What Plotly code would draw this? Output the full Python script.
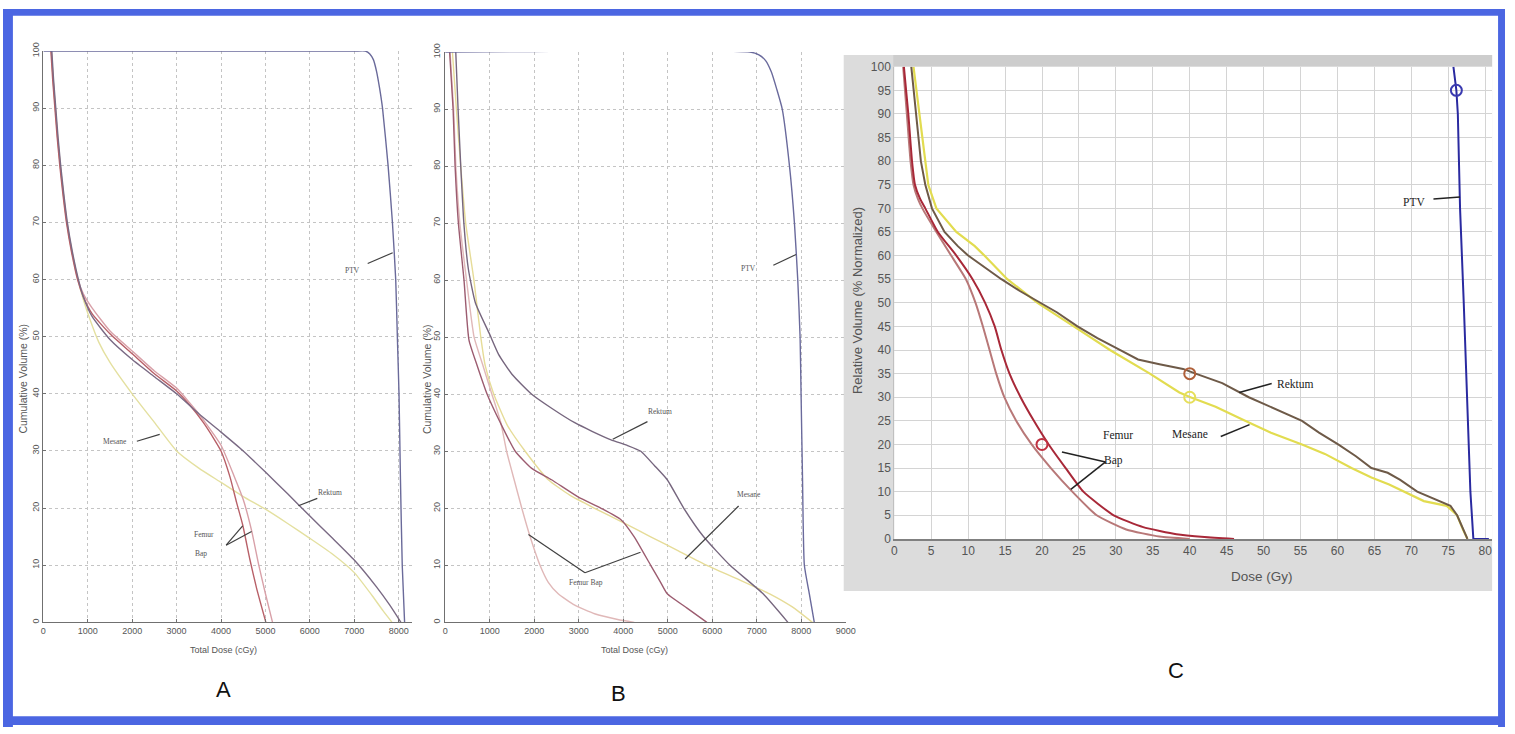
import plotly.graph_objects as go

W, H = 1515, 734

# ---------------- Panel A (Total Dose cGy vs Cumulative Volume %) ----------------
a_ptv_dose = [0, 7000, 7250, 7350, 7430, 7500, 7570, 7636, 7761, 7859, 7933, 7970, 8007, 8040, 8080, 8133]
a_ptv_vol = [100, 100, 100, 99.5, 98.5, 96.5, 93.5, 90, 80, 70, 60, 50, 40, 25, 10, 0]
a_rek_dose = [190, 230, 280, 330, 390, 460, 540, 650, 790, 900, 1100, 1500, 2000, 2500, 3000, 3500, 4000,
              4500, 5000, 5500, 6000, 6500, 7000, 7500, 7800, 8050]
a_rek_vol = [100, 95, 90, 85, 80, 75, 70, 65, 60, 57, 53.5, 49.5, 46, 43, 40, 36.5, 33.3, 30, 26.3, 22.5,
             18.6, 14.8, 10.9, 6.2, 3, 0]
a_fem_dose = [170, 210, 260, 310, 370, 440, 520, 630, 770, 900, 1100, 1500, 2000, 2500, 3000, 3300, 3600,
              3850, 4000, 4200, 4350, 4490, 4650, 4800, 5010]
a_fem_vol = [100, 95, 90, 85, 80, 75, 70, 65, 60, 57, 54, 50.5, 47, 43.5, 40.5, 38, 35, 32, 30, 25.5, 21,
             17, 11, 6, 0]
a_bap_dose = [180, 220, 270, 320, 380, 450, 530, 640, 780, 900, 1100, 1500, 2000, 2500, 3000, 3500, 4000,
              4300, 4500, 4690, 4850, 5000, 5160]
a_bap_vol = [100, 95, 90, 85, 80, 75, 70, 65, 60, 57.5, 55, 51, 47.5, 44, 41, 36.5, 31, 25.5, 21.5, 16, 10,
             5, 0]
a_mes_dose = [180, 220, 270, 320, 380, 450, 530, 640, 780, 900, 1050, 1250, 1500, 2000, 2500, 3000, 3500,
              4000, 4500, 5000, 5500, 6000, 6500, 7000, 7400, 7650, 7850]
a_mes_vol = [100, 95, 90, 85, 80, 75, 70, 65, 60, 56.5, 53, 49, 45.5, 40, 35, 30, 27, 24.5, 22, 19.8, 17.3,
             14.7, 12, 8.7, 4.7, 2, 0]

# ---------------- Panel B ----------------
b_ptv_dose = [0, 6850, 7050, 7200, 7330, 7450, 7574, 7737, 7848, 7923, 7975, 7997, 8030, 8071, 8183, 8294]
b_ptv_vol = [100, 100, 99.5, 98.5, 96.5, 93.5, 90, 80, 70, 60, 50, 40, 25, 10, 5, 0]
b_rek_dose = [238, 290, 350, 420, 520, 680, 1000, 1200, 1500, 1945, 2400, 2911, 3300, 3727, 4100, 4396,
              4700, 4990, 5362, 5808, 6400, 7144, 7701]
b_rek_vol = [100, 90, 80, 70, 62, 56, 50.5, 47, 43.5, 40, 37.5, 35, 33.5, 32, 31, 30, 27.5, 25, 20, 15,
             10, 5, 0]
b_mes_dose = [163, 252, 349, 461, 646, 800, 900, 1092, 1400, 1797, 2317, 2800, 3357, 4000, 4618, 5250,
              5881, 6600, 7291, 7800, 8250]
b_mes_vol = [100, 90, 80, 70, 60, 50, 45, 40, 34.5, 30, 25, 22.3, 20, 17.5, 15, 12.5, 10, 7.5, 5, 2.7, 0]
b_fem_dose = [100, 178, 223, 297, 423, 535, 720, 943, 1240, 1574, 1945, 2390, 2985, 3504, 3950, 4248,
              4618, 4841, 4990, 5435, 5881]
b_fem_vol = [100, 90, 80, 70, 60, 49.5, 45, 40, 35, 30, 27, 25, 22, 20, 18, 15, 10, 7, 5, 2.5, 0]
b_bap_dose = [110, 190, 240, 330, 480, 650, 850, 1050, 1250, 1380, 1550, 1722, 1909, 2131, 2317, 2540,
              2911, 3357, 3876, 4250]
b_bap_vol = [100, 90, 80, 70, 60, 50, 45, 40, 35, 30, 25, 20, 15, 10, 7, 5, 3, 1.5, 0.5, 0]

# ---------------- Panel C (Dose Gy vs Relative Volume %) ----------------
c_fem_dose = [1.3, 1.9, 2.4, 2.8, 3.5, 4.2, 5.9, 8.4, 10.6, 12.3, 13.6, 14.5, 15.6, 17.1, 18.9, 20.9,
              23.2, 25.6, 29.7, 33.7, 38.2, 42, 46]
c_fem_vol = [100, 90, 80, 75, 72, 70, 65, 60, 55, 50, 45, 40, 35, 30, 25, 20, 15, 10, 5, 2.5, 1, 0.4, 0]
c_bap_dose = [1.2, 1.7, 2.2, 2.6, 3.2, 3.8, 5.7, 7.7, 9.7, 11.0, 12.0, 12.9, 13.8, 14.9, 16.5, 18.6,
              21.2, 24.1, 27.4, 31.4, 35.9, 40]
c_bap_vol = [100, 90, 80, 75, 72, 70, 65, 60, 55, 50, 45, 40, 35, 30, 25, 20, 15, 10, 5, 2, 0.5, 0]
c_rek_dose = [2.3, 3.0, 3.6, 4.2, 5.1, 6.8, 8.6, 10.0, 12.7, 14.5, 17, 19.8, 22, 24.8, 27.5, 30.6, 33,
              35.9, 39.1, 40.8, 44.4, 48.0, 51.5, 55.2, 57.5, 60.1, 62.5, 64.6, 66.8, 68.5, 70.8, 73,
              75.3, 76.2, 77, 77.6]
c_rek_vol = [100, 90, 80, 75, 70, 65, 62, 60, 57, 55, 52.5, 50, 48, 45, 42.5, 40, 38, 37, 36, 35, 33, 30,
             27.5, 25, 22.5, 20, 17.5, 15, 14, 12.5, 10, 8.5, 7, 5, 2, 0]
c_mes_dose = [2.6, 3.4, 4.1, 4.6, 5.7, 8.4, 10.9, 12.2, 15.3, 19.4, 24.3, 29.2, 34.6, 38.6, 40.1, 43.5,
              47.5, 51, 55.2, 58.3, 61.9, 64.6, 67, 69.0, 71.7, 74.8, 76.2, 77, 77.6]
c_mes_vol = [100, 90, 80, 75, 70, 65, 62, 60, 55, 50, 45, 40, 35, 31, 30, 28, 25, 22.5, 20, 18, 15, 13,
             11.5, 10, 8, 7, 5, 2, 0]
c_ptv_dose = [75.7, 76.1, 76.3, 76.6, 77.1, 77.5, 78.0, 78.4, 79.2, 80.5]
c_ptv_vol = [100, 95, 90, 70, 50, 30, 10, 0, 0, 0]

# marker circles in panel C
c_circ_dose = [76.1, 40, 40, 20]
c_circ_vol = [95, 35, 30, 20]
c_circ_colors = ["#3a3ab0", "#b0603a", "#e6df5a", "#c03040"]

panel_letters = ["A", "B", "C"]

fig = go.Figure()


def add(x, y, color, width, xa, ya, shape="spline"):
    fig.add_trace(go.Scatter(x=x, y=y, mode="lines",
                             line=dict(color=color, width=width, shape=shape, smoothing=0.5),
                             xaxis=xa, yaxis=ya, showlegend=False, hoverinfo="skip"))


# Panel A
add(a_mes_dose, a_mes_vol, "#e4e0a0", 1.4, "x", "y")
add(a_bap_dose, a_bap_vol, "#d8a0a8", 1.4, "x", "y")
add(a_fem_dose, a_fem_vol, "#b86068", 1.4, "x", "y")
add(a_rek_dose, a_rek_vol, "#7a6a84", 1.4, "x", "y")
add(a_ptv_dose, a_ptv_vol, "#6a6a9a", 1.4, "x", "y")
# Panel B
add(b_mes_dose, b_mes_vol, "#e6dc98", 1.4, "x2", "y2")
add(b_bap_dose, b_bap_vol, "#e0b8b8", 1.4, "x2", "y2")
add(b_fem_dose, b_fem_vol, "#9c5c70", 1.4, "x2", "y2")
add(b_rek_dose, b_rek_vol, "#76667e", 1.4, "x2", "y2")
add(b_ptv_dose, b_ptv_vol, "#6a6a9c", 1.4, "x2", "y2")
# Panel C
add(c_mes_dose, c_mes_vol, "#e2dc50", 2.2, "x3", "y3", "linear")
add(c_rek_dose, c_rek_vol, "#6e5a48", 2.0, "x3", "y3", "linear")
add(c_bap_dose, c_bap_vol, "#b87878", 2.0, "x3", "y3", "spline")
add(c_fem_dose, c_fem_vol, "#a82838", 2.0, "x3", "y3", "spline")
add(c_ptv_dose, c_ptv_vol, "#2a2aa0", 2.0, "x3", "y3", "linear")
fig.add_trace(go.Scatter(x=c_circ_dose, y=c_circ_vol, mode="markers",
                         marker=dict(symbol="circle-open", size=11, color=c_circ_colors, line=dict(width=2)),
                         xaxis="x3", yaxis="y3", showlegend=False, hoverinfo="skip"))


def xd(a, b):
    return [a / W, b / W]


def yd(top, bottom):
    return [1 - bottom / H, 1 - top / H]


ab_tick = dict(family="Liberation Sans", size=9, color="#555")
ab_axis = dict(showgrid=True, gridcolor="#c4c4c4", griddash="dot", gridwidth=1, zeroline=False,
               showline=True, linecolor="#707070", linewidth=1.2, ticks="inside", ticklen=3,
               tickcolor="#707070", tickfont=ab_tick)
c_tick = dict(family="Liberation Sans", size=12, color="#555")

fig.update_layout(
    width=W, height=H, margin=dict(l=0, r=0, t=0, b=0),
    paper_bgcolor="white", plot_bgcolor="rgba(0,0,0,0)",
    xaxis=dict(domain=xd(40.7, 413), range=[0, 8310], tickvals=list(range(0, 8001, 1000)), **ab_axis),
    yaxis=dict(domain=yd(43, 627), range=[0, 100], tickvals=list(range(0, 101, 10)), tickangle=-90,
               anchor="x", **ab_axis),
    xaxis2=dict(domain=xd(446, 850), range=[0, 9000], tickvals=list(range(0, 9001, 1000)), anchor="y2",
                **ab_axis),
    yaxis2=dict(domain=yd(44, 627), range=[0, 100], tickvals=list(range(0, 101, 10)), tickangle=-90,
                anchor="x2", **ab_axis),
    xaxis3=dict(domain=xd(899, 1502), range=[0, 80.94], tickvals=list(range(0, 81, 5)), anchor="y3",
                showgrid=True, gridcolor="#d4d4d4", gridwidth=1, zeroline=False, showline=True,
                linecolor="#808080", linewidth=1.5, ticks="", tickfont=c_tick),
    yaxis3=dict(domain=yd(59, 541.7), range=[0, 100], tickvals=list(range(0, 101, 5)), anchor="x3",
                showgrid=True, gridcolor="#d4d4d4", gridwidth=1, zeroline=False, showline=True,
                linecolor="#c0c0c0", linewidth=1, ticks="", tickfont=c_tick),
)

shapes = []
# gray panel for C
shapes.append(dict(type="rect", xref="paper", yref="paper", x0=848 / W, x1=1502 / W, y0=1 - 595 / H,
                   y1=1 - 47 / H, fillcolor="#dcdcdc", line=dict(width=0), layer="below"))
shapes.append(dict(type="rect", xref="paper", yref="paper", x0=898 / W, x1=1502 / W, y0=1 - 59 / H,
                   y1=1 - 47 / H, fillcolor="#cdcdcd", line=dict(width=0), layer="below"))
shapes.append(dict(type="rect", xref="paper", yref="paper", x0=899 / W, x1=1502 / W, y0=1 - 541.7 / H,
                   y1=1 - 59 / H, fillcolor="white", line=dict(width=0), layer="below"))
# blue frame
blue = "#4b66e2"
for (x0, x1, y0, y1) in [(0, 10, 0, 734), (1508, 1515, 0, 734), (0, 1515, 0, 7), (0, 1515, 723, 732)]:
    shapes.append(dict(type="rect", xref="paper", yref="paper", x0=x0 / W, x1=x1 / W, y0=1 - y1 / H,
                       y1=1 - y0 / H, fillcolor=blue, line=dict(width=0), layer="above"))


def seg(xa, ya, x0, y0, x1, y1, color="#404040", width=1.2):
    shapes.append(dict(type="line", xref=xa, yref=ya, x0=x0, y0=y0, x1=x1, y1=y1,
                       line=dict(color=color, width=width)))


# pointer lines panel A
seg("x", "y", 7302, 62.8, 7865, 64.7)
seg("x", "y", 2105, 31.7, 2619, 32.9)
seg("x", "y", 6168, 21.7, 5744, 20.4)
seg("x", "y", 4115, 13.5, 4487, 16.9)
seg("x", "y", 4115, 13.5, 4688, 15.9)
# pointer lines panel B
seg("x2", "y2", 7374, 62.6, 7886, 64.5)
seg("x2", "y2", 4545, 35.2, 3765, 32.1)
seg("x2", "y2", 6594, 20.4, 5391, 11.1)
seg("x2", "y2", 3141, 8.7, 1871, 15.4)
seg("x2", "y2", 3141, 8.7, 4389, 12.3)
# pointer lines panel C
seg("x3", "y3", 73.0, 72.0, 76.6, 72.4, "#222", 1.5)
seg("x3", "y3", 51.1, 32.9, 46.7, 31.0, "#222", 1.5)
seg("x3", "y3", 44.2, 21.7, 48.1, 24.2, "#222", 1.5)
seg("x3", "y3", 28.6, 16.3, 22.7, 18.4, "#222", 1.5)
seg("x3", "y3", 28.6, 16.3, 23.9, 10.5, "#222", 1.5)

fig.update_layout(shapes=shapes)

ann = []


def lab(xa, ya, x, y, text, size=7.5, color="#555", family="Liberation Serif", angle=0):
    ann.append(dict(xref=xa, yref=ya, x=x, y=y, text=text, showarrow=False, textangle=angle,
                    font=dict(family=family, size=size, color=color)))


lab("x", "y", 6952, 61.6, "PTV")
lab("x", "y", 1614, 31.7, "Mesane")
lab("x", "y", 6459, 22.8, "Rektum")
lab("x", "y", 3624, 15.4, "Femur")
lab("x", "y", 3557, 12.0, "Bap")
lab("x2", "y2", 6817, 62.1, "PTV")
lab("x2", "y2", 4834, 36.9, "Rektum")
lab("x2", "y2", 6817, 22.5, "Mesane")
lab("x2", "y2", 3163, 7.0, "Femur Bap")
lab("x3", "y3", 70.3, 71.4, "PTV", 11.5, "#222")
lab("x3", "y3", 54.2, 32.9, "Rektum", 11.5, "#222")
lab("x3", "y3", 40.1, 22.3, "Mesane", 11.5, "#222")
lab("x3", "y3", 30.3, 22.1, "Femur", 11.5, "#222")
lab("x3", "y3", 29.7, 16.5, "Bap", 11.5, "#222")


def plab(px, py, text, size, color="#555", angle=0, family="Liberation Sans"):
    ann.append(dict(xref="paper", yref="paper", x=px / W, y=1 - py / H, text=text, showarrow=False,
                    textangle=angle, xanchor="center", yanchor="middle",
                    font=dict(family=family, size=size, color=color)))


plab(20, 378, "Cumulative Volume (%)", 10.5, angle=-90)
plab(222, 655, "Total Dose (cGy)", 9)
plab(427, 378, "Cumulative Volume (%)", 10.5, angle=-90)
plab(637, 655, "Total Dose (cGy)", 9)
plab(862, 298, "Relative Volume (% Normalized)", 13, angle=-90)
plab(1270, 580, "Dose (Gy)", 13.5)
plab(222, 696, panel_letters[0], 22, "#111")
plab(621, 700, panel_letters[1], 22, "#111")
plab(1183, 676, panel_letters[2], 22, "#111")

fig.update_layout(annotations=ann)

fig.write_html("out.html", config={"displayModeBar": False},
               post_script="document.documentElement.style.margin='0';document.body.style.margin='0';"
                           "document.body.style.padding='0';document.documentElement.style.overflow='hidden';"
                           "document.body.style.overflow='hidden';"
                           "var g=document.getElementById('{plot_id}');g.style.position='fixed';"
                           "g.style.left='0px';g.style.top='0px';")
